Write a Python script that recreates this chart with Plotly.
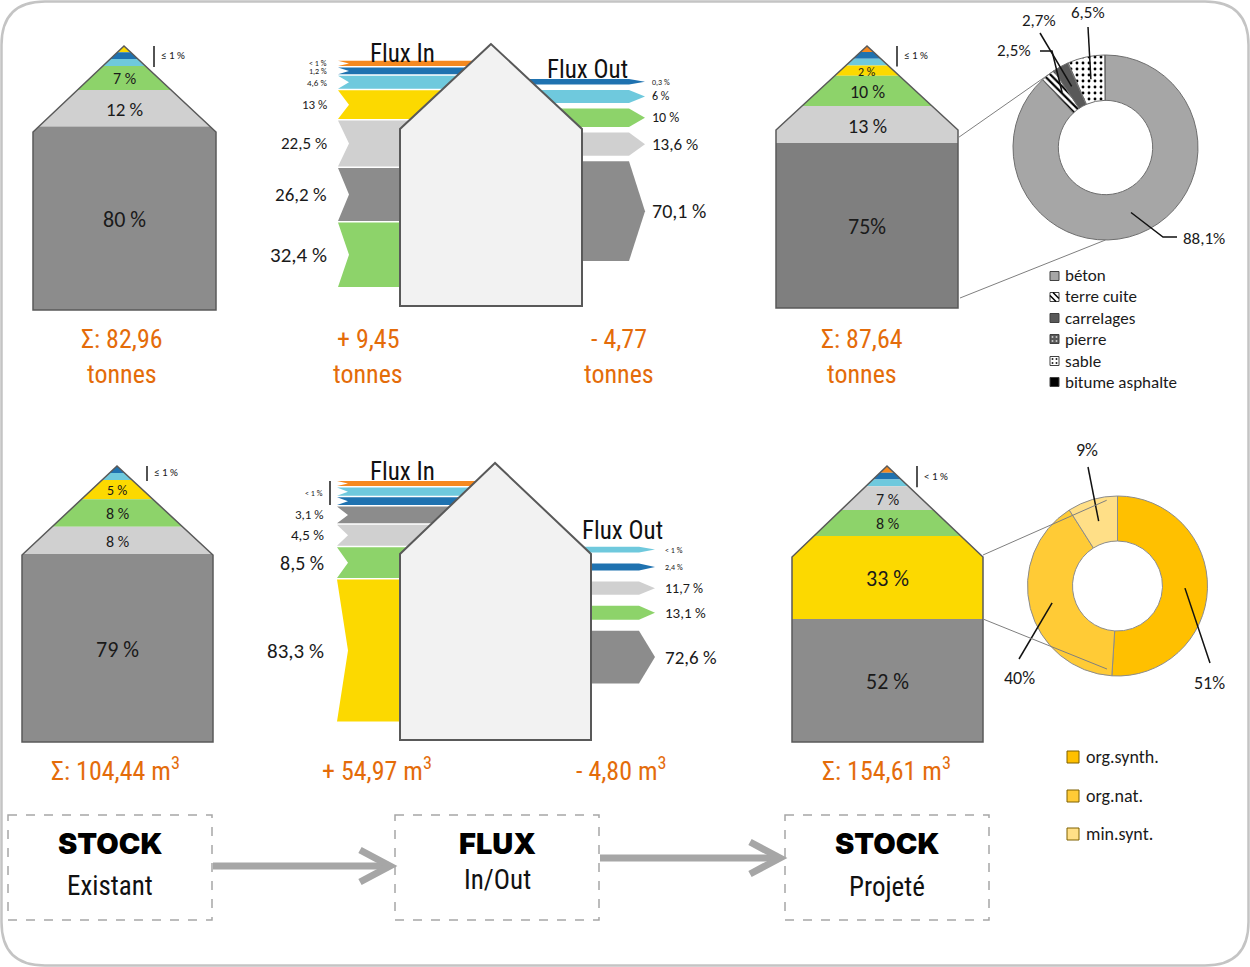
import numpy as np
import plotly.graph_objects as go

W, H = 1250, 967


def X(px):
    return px / W


def Y(py):
    return 1 - py / H


COL = dict(orange='#F5891F', dblue='#1F72B0', lblue='#6FC9DD', yellow='#FCD900',
           green='#8DD36A', lgray='#D0D0D0', dgray='#8C8C8C', dgray2='#7F7F7F')
ORANGE_TXT = '#E46C0A'
NARROW = "Liberation Sans Narrow, Arial Narrow, Roboto Condensed, DejaVu Sans Condensed, sans-serif"
CAL = "Carlito, Calibri, Lato, Open Sans, sans-serif"
HEAVY = "Arial Black, Inter, Roboto, DejaVu Sans, sans-serif"
CAL_SCALE = 1.15
MIN_FS = 7.2

# ---------------- DATA ----------------
# House stacks (top -> bottom), shares in %
tl_layers = ['yellow', 'dblue', 'lblue', 'green', 'lgray', 'dgray']
tl_values = [0.6, 0.8, 0.8, 7, 12, 80]
tl_labels = ['', '', '', '7 %', '12 %', '80 %']
tr_layers = ['orange', 'dblue', 'lblue', 'yellow', 'green', 'lgray', 'dgray2']
tr_values = [0.6, 0.8, 0.8, 2, 10, 13, 75]
tr_labels = ['', '', '', '2 %', '10 %', '13 %', '75%']
bl_layers = ['dblue', 'lblue', 'yellow', 'green', 'lgray', 'dgray']
bl_values = [0.8, 0.8, 5, 8, 8, 79]
bl_labels = ['', '', '5 %', '8 %', '8 %', '79 %']
br_layers = ['orange', 'dblue', 'lblue', 'lgray', 'green', 'yellow', 'dgray']
br_values = [0.8, 0.8, 0.8, 7, 8, 33, 52]
br_labels = ['', '', '', '7 %', '8 %', '33 %', '52 %']
small_group_labels = ['≤ 1 %', '≤ 1 %', '≤ 1 %', '< 1 %']

# Flux stacks (top -> bottom), shares in %
top_in_layers = ['orange', 'dblue', 'lblue', 'yellow', 'lgray', 'dgray', 'green']
top_in_values = [0.5, 1.2, 4.6, 13, 22.5, 26.2, 32.4]
top_in_labels = ['< 1 %', '1,2 %', '4,6 %', '13 %', '22,5 %', '26,2 %', '32,4 %']
top_out_layers = ['dblue', 'lblue', 'green', 'lgray', 'dgray']
top_out_values = [0.3, 6, 10, 13.6, 70.1]
top_out_labels = ['0,3 %', '6 %', '10 %', '13,6 %', '70,1 %']
bot_in_layers = ['orange', 'lblue', 'dblue', 'dgray', 'lgray', 'green', 'yellow']
bot_in_values = [0.2, 0.8, 0.7, 3.1, 4.5, 8.5, 83.3]
bot_in_labels = ['', '', '', '3,1 %', '4,5 %', '8,5 %', '83,3 %']
bot_out_layers = ['lblue', 'dblue', 'lgray', 'green', 'dgray']
bot_out_values = [0.5, 2.4, 11.7, 13.1, 72.6]
bot_out_labels = ['< 1 %', '2,4 %', '11,7 %', '13,1 %', '72,6 %']

# Totals
top_totals = ['Σ: 82,96', '+ 9,45', '- 4,77', 'Σ: 87,64']
top_unit = 'tonnes'
bot_totals = ['Σ: 104,44 m<sup>3</sup>', '+ 54,97 m<sup>3</sup>', '- 4,80 m<sup>3</sup>',
              'Σ: 154,61 m<sup>3</sup>']

# Donuts
min_labels = ['béton', 'terre cuite', 'carrelages', 'pierre', 'sable', 'bitume asphalte']
min_values = [88.1, 2.5, 2.7, 0.1, 6.5, 0.1]
min_text = ['88,1%', '2,5%', '2,7%', '', '6,5%', '']
org_labels = ['org.synth.', 'org.nat.', 'min.synt.']
org_values = [51, 40, 9]
org_text = ['51%', '40%', '9%']

# Bottom process boxes
box_titles = ['STOCK', 'FLUX', 'STOCK']
box_subs = ['Existant', 'In/Out', 'Projeté']

# ---------------- LAYOUT GEOMETRY ----------------
houses = [
    dict(apex=(124, 46), eave=132, xl=33, xr=216, bottom=310, layers=tl_layers, values=tl_values, labels=tl_labels),
    dict(apex=(867, 46), eave=130, xl=776, xr=958, bottom=308, layers=tr_layers, values=tr_values, labels=tr_labels),
    dict(apex=(117, 466), eave=555, xl=22, xr=213, bottom=742, layers=bl_layers, values=bl_values, labels=bl_labels),
    dict(apex=(887, 466), eave=557, xl=792, xr=983, bottom=742, layers=br_layers, values=br_values, labels=br_labels),
]

shapes = []
annotations = []


def path_of(pts):
    return 'M ' + ' L '.join(f'{X(x):.5f},{Y(y):.5f}' for x, y in pts) + ' Z'


def add_poly(pts, fill, line_color=None, line_width=0, dash=None):
    ln = dict(width=line_width, color=line_color or 'rgba(0,0,0,0)')
    if dash:
        ln['dash'] = dash
    shapes.append(dict(type='path', xref='paper', yref='paper', path=path_of(pts),
                       fillcolor=fill, line=ln, layer='above'))


def add_line(pts, color, width, dash=None):
    d = 'M ' + ' L '.join(f'{X(x):.5f},{Y(y):.5f}' for x, y in pts)
    ln = dict(color=color, width=width)
    if dash:
        ln['dash'] = dash
    shapes.append(dict(type='path', xref='paper', yref='paper', path=d, line=ln, layer='above'))


def add_text(x, y, text, size, color='#1A1A1A', family=CAL, xanchor='center', weight=None):
    if family == CAL:
        size = max(MIN_FS, size) * CAL_SCALE
    f = dict(size=round(size), color=color, family=family)
    if weight:
        f['weight'] = weight
    annotations.append(dict(x=X(x), y=Y(y), xref='paper', yref='paper', text=text, showarrow=False,
                            xanchor=xanchor, yanchor='middle', font=f))


def house_pts(g, y0, y1):
    ax, ay = g['apex']
    ey, xl, xr = g['eave'], g['xl'], g['xr']

    def lx(y):
        return ax - (ax - xl) * (y - ay) / (ey - ay) if y < ey else xl

    def rx(y):
        return ax + (xr - ax) * (y - ay) / (ey - ay) if y < ey else xr

    pts = [(lx(y0), y0)]
    if y0 < ey < y1:
        pts.append((xl, ey))
    pts += [(lx(y1), y1), (rx(y1), y1)]
    if y0 < ey < y1:
        pts.append((xr, ey))
    pts.append((rx(y0), y0))
    return pts


def stack_heights(vals, total, c=4.0, p=0.9):
    w = np.array(vals, float) ** p
    k = (total - c * len(vals)) / w.sum()
    return c + k * w


house_bounds = []
for hi, g in enumerate(houses):
    ax, ay = g['apex']
    hs = stack_heights(g['values'], g['bottom'] - ay)
    y = ay
    bounds = []
    for lay, v, h in zip(g['layers'], g['values'], hs):
        add_poly(house_pts(g, y, y + h), COL[lay])
        bounds.append((y, y + h))
        y += h
    house_bounds.append(bounds)
    add_poly(house_pts(g, ay, g['bottom']), 'rgba(0,0,0,0)', '#595959', 1.5)
    # labels
    small_end = ay
    for (y0, y1), v, lab in zip(bounds, g['values'], g['labels']):
        if lab:
            add_text(ax, (y0 + y1) / 2 + 1, lab, min(19, 9.5 + 0.6 * v))
        else:
            small_end = y1
    bx = ax + 30
    add_line([(bx, ay), (bx, small_end + 1)], '#1A1A1A', 1.5)
    add_text(bx + 5, (ay + small_end) / 2, small_group_labels[hi], 9.5, xanchor='left')

# ---------- flux panels ----------
flux_panels = [
    dict(house=dict(apex=(491, 44), eave=129, xl=400, xr=582, bottom=306),
         in_layers=top_in_layers, in_values=top_in_values, in_labels=top_in_labels,
         in_top=60.7, in_gap=1.5, in_par=(4.5, 1.85, 1.0), in_xl=338, in_lab_x=329, in_fs=(6.5, 0.37, 19),
         out_layers=top_out_layers, out_values=top_out_values, out_labels=top_out_labels,
         out_top=79, out_gap=5.5, out_par=(5, 1.35, 1.0), out_tip=645, out_lab_x=650, out_fs=(6.5, 0.6, 17),
         title_in=(402, 54), title_out=(587, 70), in_group=None),
    dict(house=dict(apex=(495, 463), eave=554, xl=400, xr=591, bottom=740),
         in_layers=bot_in_layers, in_values=bot_in_values, in_labels=bot_in_labels,
         in_top=481, in_gap=1.5, in_par=(3, 6.2, 0.703), in_xl=337, in_lab_x=326, in_fs=(7.5, 1.2, 18),
         out_layers=bot_out_layers, out_values=bot_out_values, out_labels=bot_out_labels,
         out_top=546.7, out_gap=11, out_par=(5.5, 0.65, 1.0), out_tip=655, out_lab_x=663, out_fs=(5.5, 0.6, 16.5),
         title_in=(402, 471), title_out=(622, 530), in_group='< 1 %'),
]

for fp in flux_panels:
    g = fp['house']
    cx = g['apex'][0]
    # in bands
    c, k, p = fp['in_par']
    hs = c + k * np.array(fp['in_values'], float) ** p
    y = fp['in_top']
    grp = []
    for lay, v, lab, h in zip(fp['in_layers'], fp['in_values'], fp['in_labels'], hs):
        xl = fp['in_xl']
        add_poly([(xl, y), (cx, y), (cx, y + h), (xl, y + h), (xl + 11, y + h / 2)], COL[lay])
        if lab:
            s0, a, smax = fp['in_fs']
            add_text(fp['in_lab_x'], y + h / 2, lab, min(smax, s0 + a * v), xanchor='right')
        else:
            grp.append((y, y + h))
        y += h + fp['in_gap']
    if fp['in_group'] and grp:
        gy0, gy1 = grp[0][0], grp[-1][1]
        add_line([(fp['in_lab_x'] + 4, gy0), (fp['in_lab_x'] + 4, gy1)], '#1A1A1A', 1.5)
        add_text(fp['in_lab_x'] - 1, (gy0 + gy1) / 2, fp['in_group'], 6.5, xanchor='right')
    # out bands
    c, k, p = fp['out_par']
    hs = c + k * np.array(fp['out_values'], float) ** p
    y = fp['out_top']
    tip = fp['out_tip']
    for lay, v, lab, h in zip(fp['out_layers'], fp['out_values'], fp['out_labels'], hs):
        add_poly([(cx, y), (tip - 16, y), (tip, y + h / 2), (tip - 16, y + h), (cx, y + h)], COL[lay])
        s0, a, smax = fp['out_fs']
        add_text(fp['out_lab_x'], y + h / 2, lab, min(smax, s0 + a * v), xanchor='left')
        y += h + fp['out_gap']
    # house on top
    add_poly(house_pts(g, g['apex'][1], g['bottom']), '#F2F2F2', '#595959', 2)
    add_text(*fp['title_in'], 'Flux In', 25, '#111111', NARROW)
    add_text(*fp['title_out'], 'Flux Out', 25, '#111111', NARROW)

# ---------- totals ----------
tot_x = [122, 368, 619, 862]
for x, t in zip(tot_x, top_totals):
    add_text(x, 339, t, 26, ORANGE_TXT, NARROW)
    add_text(x, 374, top_unit, 26, ORANGE_TXT, NARROW)
bot_x = [116, 377, 621, 886]
for x, t in zip(bot_x, bot_totals):
    add_text(x, 769, t, 26, ORANGE_TXT, NARROW)

# ---------- donuts ----------
donuts = [
    dict(cx=1105.5, cy=147.5, r=92.5, hole=0.51),
    dict(cx=1117.5, cy=586, r=90, hole=0.5),
]


def donut_pt(d, frac, rr):
    th = 2 * np.pi * frac
    return (d['cx'] + rr * np.sin(th), d['cy'] - rr * np.cos(th))


def dom(d):
    return dict(x=[X(d['cx'] - d['r']), X(d['cx'] + d['r'])],
                y=[Y(d['cy'] + d['r']), Y(d['cy'] - d['r'])])


fig = go.Figure()
min_colors = ['#A6A6A6', '#FFFFFF', '#595959', '#595959', '#FFFFFF', '#000000']
fig.add_trace(go.Pie(
    values=min_values, labels=min_labels, hole=donuts[0]['hole'], domain=dom(donuts[0]),
    sort=False, direction='clockwise', rotation=0, textinfo='none', hoverinfo='skip', showlegend=False,
    marker=dict(colors=min_colors, line=dict(color='#6E6E6E', width=1),
                pattern=dict(shape=['', '\\', '', '.', '.', ''],
                             fgcolor=['#A6A6A6', '#000000', '#595959', '#FFFFFF', '#000000', '#000000'],
                             size=[5, 5, 5, 5, 6, 5], solidity=[0.3, 0.45, 0.3, 0.3, 0.18, 0.3]))))
org_colors = ['#FFC000', '#FFCB36', '#FFDF87']
fig.add_trace(go.Pie(
    values=org_values, labels=org_labels, hole=donuts[1]['hole'], domain=dom(donuts[1]),
    sort=False, direction='clockwise', rotation=0, textinfo='none', hoverinfo='skip', showlegend=False,
    marker=dict(colors=org_colors, line=dict(color='#8C8C8C', width=1))))


def mids(vals):
    v = np.array(vals, float)
    cum = np.cumsum(v) / v.sum()
    return cum - v / v.sum() / 2, cum


# leaders for top donut: (index, via points, label pos, anchor)
d0 = donuts[0]
rmid0 = d0['r'] * (1 + d0['hole']) / 2
m0, cum0 = mids(min_values)
top_leaders = [
    (0, [(1163, 237), (1177, 237)], (1181, 238), 'left'),
    (1, [(1052, 51), (1040, 51)], (1033, 51), 'right'),
    (2, [(1040, 33)], (1039, 20), 'center'),
    (4, [(1088, 27)], (1088, 12), 'center'),
]
for idx, via, lp, anc in top_leaders:
    add_line([donut_pt(d0, m0[idx], rmid0)] + via, '#111111', 1.5)
    add_text(lp[0], lp[1], min_text[idx], 14.5, xanchor=anc)

d1 = donuts[1]
rmid1 = d1['r'] * (1 + d1['hole']) / 2
m1, cum1 = mids(org_values)
bot_leaders = [
    (0, [(1210, 663)], (1209, 683), 'center'),
    (1, [(1019, 659)], (1019, 678), 'center'),
    (2, [(1088, 467)], (1087, 450), 'center'),
]
for idx, via, lp, anc in bot_leaders:
    add_line([donut_pt(d1, m1[idx], rmid1)] + via, '#111111', 1.5)
    add_text(lp[0], lp[1], org_text[idx], 16, xanchor=anc)

# connecting (zoom) lines house -> donut
tr = houses[1]
tr_gray = house_bounds[1][-1]
add_line([(tr['xr'] + 1, tr_gray[0] - 6), donut_pt(d0, cum0[1], d0['r'])], '#7F7F7F', 1)
add_line([(tr['xr'] + 2, tr['bottom'] - 10), donut_pt(d0, 0.5, d0['r'])], '#7F7F7F', 1)
br = houses[3]
br_yel = house_bounds[3][5]
add_line([(br['xr'], br['eave'] - 2), donut_pt(d1, 0.98, d1['r'] * 0.96)], '#7F7F7F', 1)
add_line([(br['xr'], br_yel[1]), donut_pt(d1, 0.52, d1['r'] * 0.93)], '#7F7F7F', 1)

# legends
leg0_y = [276, 297, 318, 339, 361, 382]
for lab, col, ly in zip(min_labels, min_colors, leg0_y):
    sx, s = 1050, 9
    add_poly([(sx, ly - s / 2), (sx + s, ly - s / 2), (sx + s, ly + s / 2), (sx, ly + s / 2)], col, '#404040', 1)
    if lab == 'terre cuite':
        add_line([(sx, ly - s / 2 + 3), (sx + s - 3, ly + s / 2)], '#000000', 1.5)
        add_line([(sx + 3, ly - s / 2), (sx + s, ly + s / 2 - 3)], '#000000', 1.5)
    if lab in ('pierre', 'sable'):
        dc = '#DDDDDD' if lab == 'pierre' else '#000000'
        for ddx, ddy in [(2.5, -2), (6.5, -2), (2.5, 2), (6.5, 2)]:
            add_poly([(sx + ddx - 0.8, ly + ddy - 0.8), (sx + ddx + 0.8, ly + ddy - 0.8),
                      (sx + ddx + 0.8, ly + ddy + 0.8), (sx + ddx - 0.8, ly + ddy + 0.8)], dc)
    add_text(1063, ly, lab, 14.5, xanchor='left')

leg1_y = [757, 796, 834]
for lab, col, ly in zip(org_labels, org_colors, leg1_y):
    sx, s = 1067, 12
    add_poly([(sx, ly - s / 2), (sx + s, ly - s / 2), (sx + s, ly + s / 2), (sx, ly + s / 2)], col, '#7F6000', 1)
    add_text(1084, ly, lab, 16, xanchor='left')

# ---------- process boxes ----------
box_x = [(8, 212), (395, 599), (785, 989)]
title_y = [843, 843, 843]
sub_y = [886, 880, 887]
for (x0, x1), t, s, ty, sy in zip(box_x, box_titles, box_subs, title_y, sub_y):
    add_poly([(x0, 815), (x1, 815), (x1, 920), (x0, 920)], 'rgba(0,0,0,0)', '#A6A6A6', 1.5, 'dash')
    add_text((x0 + x1) / 2, ty, t, 29, '#000000', HEAVY, weight=900)
    add_text((x0 + x1) / 2, sy, s, 27, '#111111', NARROW)

arrows = [((213, 390), 866), ((600, 780), 858)]
for (a0, a1), ay in arrows:
    add_line([(a0, ay), (a1 - 3, ay)], '#A6A6A6', 7)
    add_line([(a1 - 30, ay - 16), (a1, ay), (a1 - 30, ay + 16)], '#A6A6A6', 7)

# ---------- frame ----------
rr = 45
frame = (f'M {X(rr)},{Y(1.5)} L {X(W - rr)},{Y(1.5)} Q {X(W - 1.5)},{Y(1.5)} {X(W - 1.5)},{Y(rr)} '
         f'L {X(W - 1.5)},{Y(H - rr)} Q {X(W - 1.5)},{Y(H - 1.5)} {X(W - rr)},{Y(H - 1.5)} '
         f'L {X(rr)},{Y(H - 1.5)} Q {X(1.5)},{Y(H - 1.5)} {X(1.5)},{Y(H - rr)} '
         f'L {X(1.5)},{Y(rr)} Q {X(1.5)},{Y(1.5)} {X(rr)},{Y(1.5)} Z')
shapes.insert(0, dict(type='path', xref='paper', yref='paper', path=frame,
                      line=dict(color='#C4C4C4', width=2.5), fillcolor='rgba(0,0,0,0)', layer='below'))

fig.update_layout(
    width=W, height=H, margin=dict(l=0, r=0, t=0, b=0),
    paper_bgcolor='white', plot_bgcolor='white',
    xaxis=dict(visible=False), yaxis=dict(visible=False),
    shapes=shapes, annotations=annotations, showlegend=False,
)
fig.write_html('out.html')
